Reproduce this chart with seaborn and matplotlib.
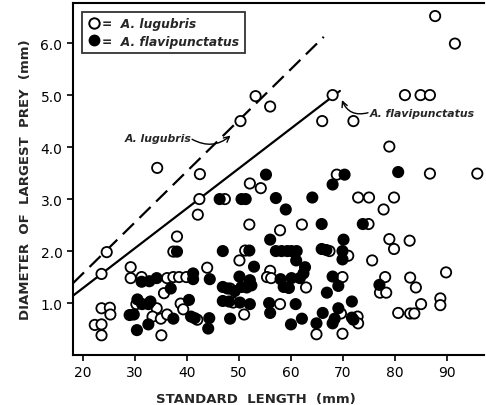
import matplotlib
matplotlib.use("Agg")
import matplotlib.pyplot as plt
import seaborn as sns
import pandas as pd
from matplotlib.lines import Line2D

# A. lugubris (open circles)
lug_x = [87.7, 91.5, 81.9, 84.9, 86.7, 68.0, 53.2, 56.0, 50.3, 66.0, 72.0, 78.9, 34.3, 42.5, 68.8, 86.7, 95.8,
         52.1, 54.2, 42.4, 47.3, 72.9, 75.0, 79.8, 77.8, 42.1, 52.0, 57.9, 62.1, 74.9, 38.1, 78.9, 82.8, 79.8,
         24.6, 37.4, 51.2, 67.4, 71.0, 50.1, 75.6, 29.2, 43.9, 56.0, 89.8, 23.6,
         29.2, 31.3, 36.2, 37.4, 38.5, 39.9, 55.4, 56.2, 69.9, 78.1, 82.9,
         62.9, 84.0, 48.3, 35.6, 77.1, 78.3, 88.7,
         30.3, 38.8, 48.9, 57.9, 85.0, 88.7, 23.6, 25.2, 34.2, 39.3,
         25.3, 33.4, 35.0, 36.2, 42.0, 51.0, 80.6, 82.9, 83.7, 69.6, 72.8, 72.9, 22.3, 23.6, 23.6, 35.1, 64.9, 69.9]
lug_y = [6.52, 5.99, 5.00, 5.00, 5.00, 5.00, 4.98, 4.78, 4.50, 4.50, 4.50, 4.01, 3.60, 3.48, 3.47, 3.49, 3.49,
         3.30, 3.21, 3.00, 3.00, 3.03, 3.03, 3.03, 2.80, 2.70, 2.51, 2.40, 2.51, 2.52, 2.28, 2.23, 2.20, 2.04,
         1.98, 1.99, 2.01, 2.00, 1.91, 1.82, 1.82, 1.69, 1.68, 1.62, 1.59, 1.56,
         1.48, 1.50, 1.48, 1.50, 1.50, 1.50, 1.50, 1.48, 1.50, 1.50, 1.49,
         1.30, 1.30, 1.28, 1.19, 1.20, 1.20, 1.09,
         0.98, 0.99, 1.01, 0.98, 0.98, 0.96, 0.90, 0.91, 0.90, 0.88,
         0.78, 0.74, 0.70, 0.78, 0.68, 0.78, 0.81, 0.80, 0.80, 0.80, 0.74, 0.61, 0.58, 0.59, 0.38, 0.38, 0.40, 0.41]

# A. flavipunctatus (filled circles)
fla_x = [55.2, 70.3, 80.6, 68.0, 46.3, 50.5, 51.3, 57.1, 64.1, 59.0, 65.9, 73.8, 56.0, 70.1,
         38.1, 46.9, 52.0, 57.1, 58.2, 59.3, 60.1, 61.1, 65.9, 66.8, 69.9, 69.9, 61.0, 52.9, 62.7, 62.4, 41.2,
         31.3, 32.8, 34.2, 41.2, 44.4, 50.1, 52.1, 58.0, 60.1, 61.7, 68.0,
         36.9, 46.9, 47.8, 49.2, 50.5, 51.5, 52.4, 58.6, 59.6, 69.1, 77.0, 66.9,
         30.5, 31.4, 32.6, 33.0, 40.4, 46.9, 48.1, 50.2, 52.1, 55.8, 60.9, 71.7,
         56.0, 66.1, 69.1,
         29.0, 29.8, 37.4, 40.8, 41.5, 44.3, 48.3, 62.1, 68.4, 71.7, 72.0,
         30.4, 32.6, 44.1, 60.0, 64.9, 68.0]
fla_y = [3.47, 3.47, 3.52, 3.28, 3.00, 3.00, 3.00, 3.02, 3.03, 2.80, 2.52, 2.52, 2.22, 2.22,
         1.99, 2.00, 2.01, 2.00, 2.00, 2.00, 2.00, 2.00, 2.04, 2.02, 2.00, 1.84, 1.82, 1.70, 1.69, 1.57, 1.57,
         1.41, 1.42, 1.48, 1.46, 1.46, 1.51, 1.44, 1.46, 1.48, 1.48, 1.51,
         1.28, 1.31, 1.28, 1.23, 1.31, 1.30, 1.34, 1.31, 1.29, 1.33, 1.35, 1.20,
         1.07, 0.98, 0.98, 1.03, 1.06, 1.04, 1.03, 1.01, 0.98, 1.00, 0.98, 1.03,
         0.81, 0.81, 0.90,
         0.77, 0.78, 0.70, 0.74, 0.71, 0.71, 0.70, 0.70, 0.70, 0.72, 0.68,
         0.48, 0.59, 0.51, 0.59, 0.61, 0.61]

# regression lines (endpoints)
lug_line_x = [18.1, 66.3]
lug_line_y = [1.38, 6.12]
fla_line_x = [18.1, 69.4]
fla_line_y = [1.14, 5.08]

x_ticks = [20, 30, 40, 50, 60, 70, 80, 90]
y_ticks = [1.0, 2.0, 3.0, 4.0, 5.0, 6.0]
y_tick_labels = ["1.0", "2.0", "3.0", "4.0", "5.0", "6.0"]

df = pd.DataFrame({
    "length": lug_x + fla_x,
    "prey": lug_y + fla_y,
    "species": ["A. lugubris"] * len(lug_x) + ["A. flavipunctatus"] * len(fla_x),
})

sns.set_style("ticks")
plt.rcParams['font.family'] = ['DejaVu Sans']

fig = plt.figure(figsize=(4.86, 4.06), dpi=100)
ax = fig.add_axes([0.150, 0.123, 0.846, 0.867])

sns.scatterplot(data=df, x="length", y="prey", hue="species",
                palette={"A. lugubris": "white", "A. flavipunctatus": "black"},
                edgecolor="black", linewidth=1.3, s=55, legend=False, ax=ax, zorder=3)

sns.lineplot(x=lug_line_x, y=lug_line_y, ax=ax, color="black", lw=1.6,
             linestyle=(0, (7, 3.5)), zorder=2)
sns.lineplot(x=fla_line_x, y=fla_line_y, ax=ax, color="black", lw=1.6, zorder=2)

ax.set_xlim(18.1, 97.1)
ax.set_ylim(0.0, 6.77)
ax.set_xticks(x_ticks)
ax.set_yticks(y_ticks)
ax.set_yticklabels(y_tick_labels)
ax.tick_params(direction="out", length=4, width=1.2, labelsize=10, colors="black")
for sp in ["left", "bottom", "top"]:
    ax.spines[sp].set_linewidth(1.5)
    ax.spines[sp].set_color("black")
ax.spines["right"].set_visible(False)

ax.set_xlabel("STANDARD  LENGTH  (mm)", fontsize=9.5, fontweight="bold")
ax.xaxis.set_label_coords(0.445, -0.105)
ax.set_ylabel("DIAMETER  OF  LARGEST  PREY  (mm)", fontsize=9.5, fontweight="bold", labelpad=6)

handles = [
    Line2D([], [], marker="o", linestyle="none", markerfacecolor="white", markeredgecolor="black",
           markeredgewidth=1.4, markersize=7.5),
    Line2D([], [], marker="o", linestyle="none", markerfacecolor="black", markeredgecolor="black",
           markersize=7.5),
]
leg = ax.legend(handles, ["=  A. lugubris", "=  A. flavipunctatus"], loc="upper left",
                bbox_to_anchor=(0.022, 0.975), frameon=True, fancybox=False,
                prop={"style": "italic", "weight": "bold", "size": 8.8},
                handletextpad=0.1, borderpad=0.45, labelspacing=0.35, handlelength=1.1,
                borderaxespad=0.0)
leg.get_frame().set_edgecolor("black")
leg.get_frame().set_linewidth(1.3)

# labels with curly pointer arrows
ax.text(34.4, 4.17, "A. lugubris", fontsize=7.8, fontstyle="italic", fontweight="bold",
        ha="center", va="center")
ax.annotate("", xy=(48.6, 4.24), xytext=(41.0, 4.15),
            arrowprops=dict(arrowstyle="->", color="black", lw=1.0, shrinkA=0, shrinkB=1,
                            connectionstyle="arc3,rad=0.35"))
ax.text(75.2, 4.65, "A. flavipunctatus", fontsize=7.8, fontstyle="italic", fontweight="bold",
        ha="left", va="center")
ax.annotate("", xy=(69.7, 4.93), xytext=(74.8, 4.66),
            arrowprops=dict(arrowstyle="->", color="black", lw=1.0, shrinkA=0, shrinkB=1,
                            connectionstyle="arc3,rad=-0.45"))

fig.savefig("out.png", dpi=100)
